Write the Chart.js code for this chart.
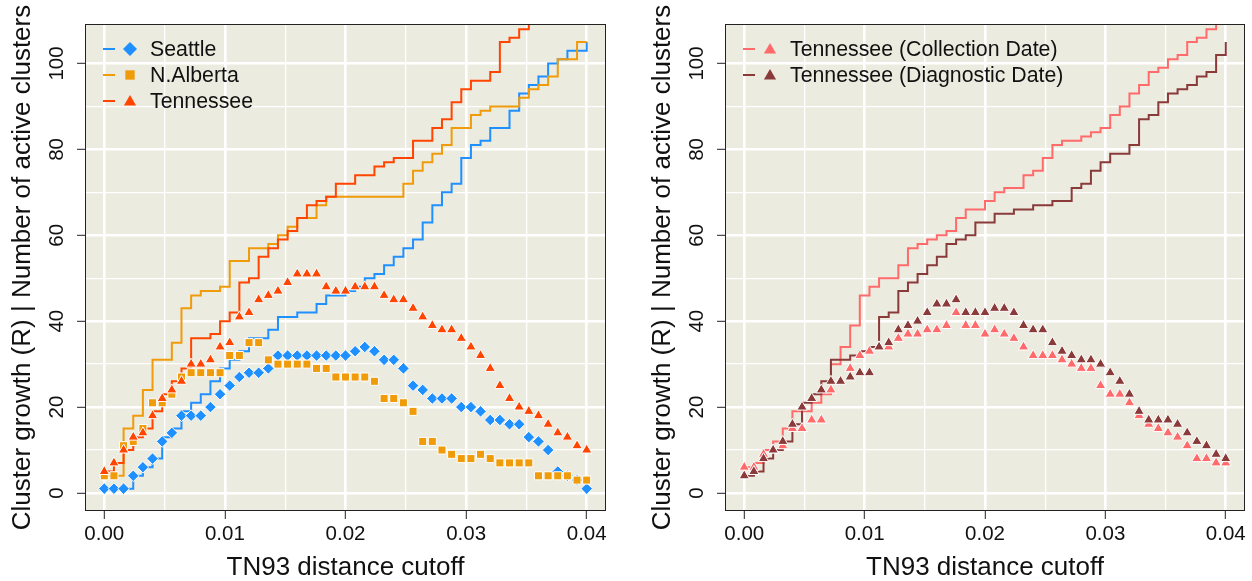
<!DOCTYPE html>
<html>
<head>
<meta charset="utf-8">
<script src="https://cdn.jsdelivr.net/npm/chart.js@4.4.0/dist/chart.umd.min.js"></script>
<style>
  html, body { margin: 0; padding: 0; background: #fff; }
  #wrap { position: relative; width: 1252px; height: 581px; }
  #left { position: absolute; left: 0; top: 0; }
  #right { position: absolute; left: 640px; top: 0; }
</style>
</head>
<body>
<div id="wrap">
  <canvas id="left" width="626" height="581"></canvas>
  <canvas id="right" width="612" height="581"></canvas>
</div>
<script>
// TN93 distance cutoffs
const cutoffs = [0, 0.0008, 0.0016, 0.0024, 0.0032, 0.004, 0.0048, 0.0056, 0.0064, 0.0072,
  0.008, 0.0088, 0.0096, 0.0104, 0.0112, 0.012, 0.0128, 0.0136, 0.0144, 0.0152,
  0.016, 0.0168, 0.0176, 0.0184, 0.0192, 0.02, 0.0208, 0.0216, 0.0224, 0.0232,
  0.024, 0.0248, 0.0256, 0.0264, 0.0272, 0.028, 0.0288, 0.0296, 0.0304, 0.0312,
  0.032, 0.0328, 0.0336, 0.0344, 0.0352, 0.036, 0.0368, 0.0376, 0.0384, 0.0392, 0.04];

// left panel: points = active clusters, step line = cluster growth
const seattleActive = [1,1,1,4,6,8,12,14,18,18,18,20,23,25,27,28,28,29,32,32,32,32,32,32,32,32,33,34,33,31,31,29,25,24,22,22,22,20,20,19,17,17,16,16,13,12,10,5,4,3,1];
const seattleGrowth = [1,1,1,4,6,8,13,15,19,21,23,26,29,31,33,36,36,38,41,41,42,42,44,46,46,47,48,50,51,53,55,57,59,63,67,70,72,78,81,82,85,85,89,93,95,97,100,101,103,103,105];
const albertaActive = [4,4,11,12,15,21,21,23,27,28,28,28,28,32,32,35,35,31,30,30,30,30,29,29,27,27,27,27,26,22,22,21,19,12,12,10,9,8,8,9,8,7,7,7,7,4,4,4,4,3,3];
const albertaGrowth = [4,4,15,18,24,31,31,35,43,46,47,47,48,54,54,57,57,58,60,62,64,64,67,69,69,69,69,69,69,69,69,72,75,77,79,81,85,85,88,89,90,90,90,92,94,95,97,101,101,105,105];
const tennActive = [5,7,10,13,14,18,22,24,26,30,30,31,34,35,41,42,45,46,47,49,51,51,51,48,47,47,48,48,48,46,45,45,43,41,39,38,38,36,34,32,29,25,22,20,19,18,16,14,13,11,10];
const tennGrowth = [5,7,10,13,15,19,23,26,29,36,36,37,40,42,49,50,55,57,59,61,64,67,68,69,72,72,74,74,76,77,78,78,82,82,85,87,91,94,96,96,98,105,106,108,111,113,115,117,119,121,123];

// right panel
const collectionActive = [6,6,9,10,11,15,15,17,17,24,26,29,32,33,34,34,36,37,37,38,38,39,42,39,39,37,38,37,36,34,32,32,32,31,30,29,29,25,23,23,21,18,16,15,14,13,11,8,8,7,7];
const collectionGrowth = [6,7,10,12,15,19,19,21,23,30,34,39,46,48,50,50,53,57,58,59,60,61,64,66,66,68,70,71,71,74,75,78,81,82,82,83,84,85,88,90,93,95,98,99,101,102,105,106,108,111,113];
const diagnosticActive = [4,5,8,10,12,16,20,22,24,26,26,27,28,28,34,35,38,39,40,42,44,44,45,42,42,42,43,43,42,39,38,38,35,33,32,31,31,30,28,26,23,19,17,17,17,16,14,12,11,9,8];
const diagnosticGrowth = [4,5,8,10,12,16,21,23,26,31,31,32,33,34,41,42,47,49,51,53,55,58,59,60,63,63,65,65,66,66,67,67,68,68,71,72,75,77,79,79,81,87,88,91,93,94,95,97,98,102,105];

// axes
const xGridVals = [0, 0.005, 0.01, 0.015, 0.02, 0.025, 0.03, 0.035, 0.04];
const xTickLabels = ['0.00', '0.01', '0.02', '0.03', '0.04'];
const yGridVals = [0, 10, 20, 30, 40, 50, 60, 70, 80, 90, 100];
const yTickLabels = ['0', '20', '40', '60', '80', '100'];

const FONT = 'Liberation Sans, Arial, Helvetica, sans-serif';
const BG = '#ECEBE0';

function pts(ys) {
  return ys.map((y, i) => ({x: cutoffs[i], y: y}));
}
function xLabel(v) {
  return xTickLabels.find(l => Math.abs(Number(l) - v) < 1e-9) || '';
}
function yLabel(v) {
  return yTickLabels.find(l => Number(l) === v) || '';
}

function makeScales() {
  return {
    x: {
      type: 'linear',
      min: -0.0016,
      max: 0.0416,
      afterBuildTicks: s => { s.ticks = xGridVals.map(v => ({value: v})); },
      afterFit: s => { s.height = 70; },
      border: {display: false},
      grid: {
        color: '#fff',
        lineWidth: c => xLabel(c.tick.value) ? 2.6 : 1.3,
        tickColor: c => xLabel(c.tick.value) ? '#222' : 'rgba(0,0,0,0)',
        tickLength: 8,
        tickWidth: 1
      },
      ticks: {
        autoSkip: false, maxRotation: 0, minRotation: 0, padding: 3,
        color: '#111', font: {family: FONT, size: 20.5},
        callback: v => xLabel(v)
      },
      title: {
        display: true, text: 'TN93 distance cutoff', color: '#111',
        font: {family: FONT, size: 26}, padding: {top: 0, bottom: -2}
      }
    },
    y: {
      min: -4.2,
      max: 109.2,
      afterBuildTicks: s => { s.ticks = yGridVals.map(v => ({value: v})); },
      afterFit: s => { s.width = 85; },
      border: {display: false},
      grid: {
        color: '#fff',
        lineWidth: c => yLabel(c.tick.value) ? 2.6 : 1.3,
        tickColor: c => yLabel(c.tick.value) ? '#222' : 'rgba(0,0,0,0)',
        tickLength: 8,
        tickWidth: 1
      },
      ticks: {
        autoSkip: false, minRotation: 90, maxRotation: 90, crossAlign: 'center', padding: 3,
        color: '#111', font: {family: FONT, size: 20.5},
        callback: v => yLabel(v)
      },
      title: {
        display: true, text: 'Cluster growth (R) | Number of active clusters', color: '#111',
        font: {family: FONT, size: 26}, padding: {top: 7, bottom: 0}
      }
    }
  };
}

function marker(ctx, style, x, y, r) {
  ctx.beginPath();
  if (style === 'rectRot') {
    ctx.moveTo(x, y - r); ctx.lineTo(x + r, y); ctx.lineTo(x, y + r); ctx.lineTo(x - r, y);
  } else if (style === 'rect') {
    const h = r * 0.72;
    ctx.rect(x - h, y - h, 2 * h, 2 * h);
  } else {
    ctx.moveTo(x, y - r); ctx.lineTo(x + r * 0.87, y + r * 0.5); ctx.lineTo(x - r * 0.87, y + r * 0.5);
  }
  ctx.closePath();
  ctx.fill();
}

const panelPlugin = {
  id: 'panel',
  beforeDraw(chart) {
    const a = chart.chartArea;
    const ctx = chart.ctx;
    ctx.save();
    ctx.fillStyle = BG;
    ctx.fillRect(a.left, a.top, a.right - a.left, a.bottom - a.top);
    ctx.restore();
  },
  afterDraw(chart) {
    const a = chart.chartArea;
    const ctx = chart.ctx;
    ctx.save();
    ctx.strokeStyle = '#222';
    ctx.lineWidth = 1;
    ctx.strokeRect(a.left + 0.5, a.top + 0.5, a.right - a.left - 1, a.bottom - a.top - 1);
    // legend inside the panel
    const items = chart.options.plugins.panel.items;
    items.forEach((it, k) => {
      const y = 49 + k * 26;
      ctx.strokeStyle = it.color;
      ctx.lineWidth = 2;
      ctx.beginPath();
      ctx.moveTo(a.left + 18, y);
      ctx.lineTo(a.left + 30, y);
      ctx.stroke();
      ctx.fillStyle = it.color;
      marker(ctx, it.style, a.left + 45, y + (it.style === 'triangle' ? 1 : 0), it.style === 'rect' ? 6.5 : 7);
      ctx.fillStyle = '#111';
      ctx.font = '21.3px ' + FONT;
      ctx.textBaseline = 'middle';
      ctx.textAlign = 'left';
      ctx.fillText(it.label, a.left + 65, y + 1);
    });
    ctx.restore();
  }
};

function lineSet(label, ys, color, order) {
  return {
    label: label, data: pts(ys), borderColor: color, borderWidth: 2,
    pointRadius: 0, stepped: true, fill: false, order: order
  };
}
function pointSet(label, ys, color, style, radius, order) {
  return {
    label: label, data: pts(ys), showLine: false, pointStyle: style,
    pointRadius: radius, pointBackgroundColor: color, pointBorderColor: '#fff',
    pointBorderWidth: 1, order: order
  };
}

function makeChart(id, datasets, items, padRight) {
  return new Chart(document.getElementById(id), {
    type: 'line',
    data: {datasets: datasets},
    options: {
      responsive: false,
      animation: false,
      events: [],
      layout: {padding: {left: 0, right: padRight, top: 24, bottom: 0}},
      scales: makeScales(),
      plugins: {legend: {display: false}, tooltip: {enabled: false}, panel: {items: items}}
    },
    plugins: [panelPlugin]
  });
}

const cSeattle = '#1E90FF', cAlberta = '#F09B0A', cTenn = '#FF4500';
const cColl = '#FF6A6A', cDiag = '#8B3A3A';

makeChart('left', [
  pointSet('Tennessee', tennActive, cTenn, 'triangle', 6, 0),
  pointSet('N.Alberta', albertaActive, cAlberta, 'rect', 5.7, 1),
  pointSet('Seattle', seattleActive, cSeattle, 'rectRot', 5.8, 2),
  lineSet('Tennessee', tennGrowth, cTenn, 3),
  lineSet('N.Alberta', albertaGrowth, cAlberta, 4),
  lineSet('Seattle', seattleGrowth, cSeattle, 5)
], [
  {label: 'Seattle', color: cSeattle, style: 'rectRot'},
  {label: 'N.Alberta', color: cAlberta, style: 'rect'},
  {label: 'Tennessee', color: cTenn, style: 'triangle'}
], 20);

makeChart('right', [
  pointSet('Tennessee (Diagnostic Date)', diagnosticActive, cDiag, 'triangle', 6, 0),
  pointSet('Tennessee (Collection Date)', collectionActive, cColl, 'triangle', 6, 1),
  lineSet('Tennessee (Diagnostic Date)', diagnosticGrowth, cDiag, 2),
  lineSet('Tennessee (Collection Date)', collectionGrowth, cColl, 3)
], [
  {label: 'Tennessee (Collection Date)', color: cColl, style: 'triangle'},
  {label: 'Tennessee (Diagnostic Date)', color: cDiag, style: 'triangle'}
], 7);
</script>
</body>
</html>
